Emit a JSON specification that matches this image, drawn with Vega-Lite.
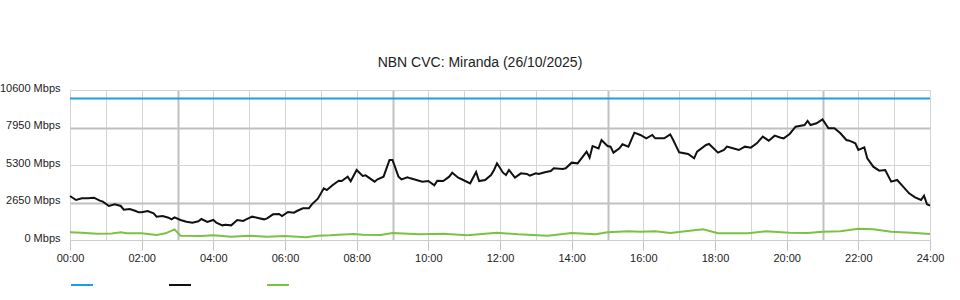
{
  "$schema": "https://vega.github.io/schema/vega-lite/v6.json",
  "autosize": "none",
  "width": 860,
  "height": 150,
  "padding": {"left": 70, "top": 90, "right": 30, "bottom": 60},
  "background": "white",
  "config": {"font": "Liberation Sans", "view": {"stroke": null}},
  "title": {
    "text": "NBN CVC: Miranda (26/10/2025)",
    "fontSize": 14,
    "fontWeight": "normal",
    "color": "#222222",
    "anchor": "middle",
    "frame": "group",
    "dx": -20,
    "offset": 12
  },
  "data": {
    "values": [
      {"s":"Capacity","m":0,"v":10000},{"s":"Capacity","m":1440,"v":10000},
      {"s":"Download","m":0,"v":3109},{"s":"Download","m":10,"v":2827},{"s":"Download","m":20,"v":2944},{"s":"Download","m":30,"v":2944},{"s":"Download","m":40,"v":2991},{"s":"Download","m":50,"v":2779},{"s":"Download","m":55,"v":2709},{"s":"Download","m":65,"v":2403},{"s":"Download","m":75,"v":2521},{"s":"Download","m":85,"v":2403},{"s":"Download","m":90,"v":2144},{"s":"Download","m":100,"v":2191},{"s":"Download","m":110,"v":2049},{"s":"Download","m":115,"v":1955},{"s":"Download","m":120,"v":1955},{"s":"Download","m":130,"v":2049},{"s":"Download","m":140,"v":1885},{"s":"Download","m":145,"v":1649},{"s":"Download","m":155,"v":1696},{"s":"Download","m":165,"v":1578},{"s":"Download","m":170,"v":1460},{"s":"Download","m":175,"v":1602},{"s":"Download","m":185,"v":1413},{"s":"Download","m":195,"v":1295},{"s":"Download","m":205,"v":1225},{"s":"Download","m":215,"v":1319},{"s":"Download","m":220,"v":1484},{"s":"Download","m":230,"v":1272},{"s":"Download","m":240,"v":1413},{"s":"Download","m":245,"v":1225},{"s":"Download","m":255,"v":1036},{"s":"Download","m":260,"v":1084},{"s":"Download","m":270,"v":1036},{"s":"Download","m":280,"v":1413},{"s":"Download","m":290,"v":1343},{"s":"Download","m":295,"v":1460},{"s":"Download","m":305,"v":1649},{"s":"Download","m":315,"v":1555},{"s":"Download","m":325,"v":1460},{"s":"Download","m":330,"v":1531},{"s":"Download","m":340,"v":1814},{"s":"Download","m":350,"v":1837},{"s":"Download","m":355,"v":1696},{"s":"Download","m":365,"v":1979},{"s":"Download","m":375,"v":1932},{"s":"Download","m":380,"v":2049},{"s":"Download","m":390,"v":2238},{"s":"Download","m":400,"v":2238},{"s":"Download","m":405,"v":2521},{"s":"Download","m":415,"v":2921},{"s":"Download","m":425,"v":3651},{"s":"Download","m":430,"v":3533},{"s":"Download","m":440,"v":3887},{"s":"Download","m":450,"v":4193},{"s":"Download","m":455,"v":4169},{"s":"Download","m":465,"v":4476},{"s":"Download","m":470,"v":4150},{"s":"Download","m":480,"v":4947},{"s":"Download","m":490,"v":4523},{"s":"Download","m":495,"v":4570},{"s":"Download","m":510,"v":4122},{"s":"Download","m":515,"v":4287},{"s":"Download","m":525,"v":4476},{"s":"Download","m":535,"v":5653},{"s":"Download","m":540,"v":5653},{"s":"Download","m":550,"v":4476},{"s":"Download","m":555,"v":4287},{"s":"Download","m":565,"v":4429},{"s":"Download","m":570,"v":4358},{"s":"Download","m":580,"v":4240},{"s":"Download","m":590,"v":4122},{"s":"Download","m":600,"v":4169},{"s":"Download","m":610,"v":3863},{"s":"Download","m":615,"v":4193},{"s":"Download","m":625,"v":4169},{"s":"Download","m":635,"v":4476},{"s":"Download","m":640,"v":4758},{"s":"Download","m":650,"v":4405},{"s":"Download","m":655,"v":4311},{"s":"Download","m":670,"v":4005},{"s":"Download","m":680,"v":4805},{"s":"Download","m":685,"v":4169},{"s":"Download","m":695,"v":4240},{"s":"Download","m":705,"v":4593},{"s":"Download","m":710,"v":4947},{"s":"Download","m":715,"v":5418},{"s":"Download","m":725,"v":4758},{"s":"Download","m":730,"v":4593},{"s":"Download","m":735,"v":4947},{"s":"Download","m":745,"v":4405},{"s":"Download","m":755,"v":4711},{"s":"Download","m":765,"v":4664},{"s":"Download","m":770,"v":4546},{"s":"Download","m":780,"v":4711},{"s":"Download","m":785,"v":4664},{"s":"Download","m":795,"v":4782},{"s":"Download","m":805,"v":4876},{"s":"Download","m":810,"v":5064},{"s":"Download","m":825,"v":5017},{"s":"Download","m":830,"v":5064},{"s":"Download","m":840,"v":5465},{"s":"Download","m":850,"v":5418},{"s":"Download","m":865,"v":6242},{"s":"Download","m":870,"v":5818},{"s":"Download","m":875,"v":6643},{"s":"Download","m":885,"v":6478},{"s":"Download","m":890,"v":7067},{"s":"Download","m":900,"v":6643},{"s":"Download","m":905,"v":6596},{"s":"Download","m":910,"v":6172},{"s":"Download","m":920,"v":6478},{"s":"Download","m":925,"v":6761},{"s":"Download","m":935,"v":6596},{"s":"Download","m":945,"v":7585},{"s":"Download","m":955,"v":7420},{"s":"Download","m":965,"v":7184},{"s":"Download","m":975,"v":7420},{"s":"Download","m":980,"v":7184},{"s":"Download","m":995,"v":7184},{"s":"Download","m":1005,"v":7467},{"s":"Download","m":1010,"v":7067},{"s":"Download","m":1020,"v":6195},{"s":"Download","m":1035,"v":6077},{"s":"Download","m":1045,"v":5771},{"s":"Download","m":1050,"v":6242},{"s":"Download","m":1065,"v":6713},{"s":"Download","m":1070,"v":6784},{"s":"Download","m":1085,"v":6172},{"s":"Download","m":1095,"v":6360},{"s":"Download","m":1100,"v":6596},{"s":"Download","m":1110,"v":6478},{"s":"Download","m":1120,"v":6360},{"s":"Download","m":1130,"v":6596},{"s":"Download","m":1140,"v":6525},{"s":"Download","m":1150,"v":6831},{"s":"Download","m":1160,"v":7302},{"s":"Download","m":1170,"v":7020},{"s":"Download","m":1180,"v":7373},{"s":"Download","m":1190,"v":7231},{"s":"Download","m":1195,"v":7184},{"s":"Download","m":1205,"v":7491},{"s":"Download","m":1215,"v":8009},{"s":"Download","m":1230,"v":8127},{"s":"Download","m":1235,"v":8409},{"s":"Download","m":1240,"v":8127},{"s":"Download","m":1250,"v":8245},{"s":"Download","m":1260,"v":8527},{"s":"Download","m":1270,"v":7891},{"s":"Download","m":1280,"v":7891},{"s":"Download","m":1290,"v":7538},{"s":"Download","m":1300,"v":7067},{"s":"Download","m":1305,"v":7020},{"s":"Download","m":1315,"v":6831},{"s":"Download","m":1320,"v":6360},{"s":"Download","m":1330,"v":6549},{"s":"Download","m":1335,"v":5771},{"s":"Download","m":1345,"v":5182},{"s":"Download","m":1355,"v":4899},{"s":"Download","m":1365,"v":4947},{"s":"Download","m":1375,"v":4122},{"s":"Download","m":1385,"v":4240},{"s":"Download","m":1395,"v":3769},{"s":"Download","m":1405,"v":3298},{"s":"Download","m":1415,"v":3015},{"s":"Download","m":1425,"v":2827},{"s":"Download","m":1430,"v":3133},{"s":"Download","m":1435,"v":2521},{"s":"Download","m":1440,"v":2426},
      {"s":"Upload","m":0,"v":542},{"s":"Upload","m":20,"v":518},{"s":"Upload","m":45,"v":447},{"s":"Upload","m":70,"v":460},{"s":"Upload","m":85,"v":542},{"s":"Upload","m":95,"v":471},{"s":"Upload","m":120,"v":471},{"s":"Upload","m":145,"v":353},{"s":"Upload","m":160,"v":471},{"s":"Upload","m":175,"v":754},{"s":"Upload","m":185,"v":306},{"s":"Upload","m":220,"v":283},{"s":"Upload","m":240,"v":330},{"s":"Upload","m":270,"v":236},{"s":"Upload","m":300,"v":306},{"s":"Upload","m":330,"v":236},{"s":"Upload","m":360,"v":283},{"s":"Upload","m":395,"v":188},{"s":"Upload","m":415,"v":306},{"s":"Upload","m":435,"v":330},{"s":"Upload","m":450,"v":377},{"s":"Upload","m":475,"v":424},{"s":"Upload","m":490,"v":377},{"s":"Upload","m":520,"v":353},{"s":"Upload","m":540,"v":494},{"s":"Upload","m":585,"v":401},{"s":"Upload","m":625,"v":448},{"s":"Upload","m":665,"v":330},{"s":"Upload","m":715,"v":518},{"s":"Upload","m":750,"v":401},{"s":"Upload","m":800,"v":306},{"s":"Upload","m":840,"v":494},{"s":"Upload","m":880,"v":401},{"s":"Upload","m":900,"v":542},{"s":"Upload","m":935,"v":613},{"s":"Upload","m":955,"v":589},{"s":"Upload","m":980,"v":612},{"s":"Upload","m":1005,"v":494},{"s":"Upload","m":1060,"v":754},{"s":"Upload","m":1085,"v":471},{"s":"Upload","m":1135,"v":471},{"s":"Upload","m":1165,"v":612},{"s":"Upload","m":1205,"v":518},{"s":"Upload","m":1235,"v":494},{"s":"Upload","m":1260,"v":589},{"s":"Upload","m":1290,"v":612},{"s":"Upload","m":1320,"v":801},{"s":"Upload","m":1345,"v":754},{"s":"Upload","m":1375,"v":589},{"s":"Upload","m":1410,"v":518},{"s":"Upload","m":1440,"v":424}
    ]
  },
  "mark": {"type": "line", "strokeWidth": 2},
  "encoding": {
    "x": {
      "field": "m", "type": "quantitative", "title": null,
      "scale": {"domain": [0, 1440], "nice": false, "zero": false},
      "axis": {
        "values": [0,60,120,180,240,300,360,420,480,540,600,660,720,780,840,900,960,1020,1080,1140,1200,1260,1320,1380,1440],
        "labelExpr": "datum.value % 120 == 0 ? ((datum.value < 600 ? '0' : '') + (datum.value / 60) + ':00') : ''",
        "labelOverlap": false,
        "labelFlush": false,
        "labelFontSize": 11,
        "labelColor": "#222222",
        "labelPadding": 2,
        "tickSize": 10,
        "tickColor": {"condition": {"test": "datum.value % 120 != 0", "value": "transparent"}, "value": "#c4c4c4"},
        "domainColor": "#cccccc",
        "grid": true,
        "gridColor": {"condition": {"test": "datum.value % 360 == 180", "value": "#c0c0c0"}, "value": "#d4d4d4"},
        "gridWidth": {"condition": {"test": "datum.value % 360 == 180", "value": 2}, "value": 1}
      }
    },
    "y": {
      "field": "v", "type": "quantitative", "title": null,
      "scale": {"domain": [0, 10600], "nice": false},
      "axis": {
        "values": [0, 2650, 5300, 7950, 10600],
        "labelExpr": "datum.value + ' Mbps'",
        "labelFontSize": 11,
        "labelColor": "#222222",
        "labelPadding": 10,
        "labelOffset": -2,
        "ticks": false,
        "domain": false,
        "grid": true,
        "gridColor": {"condition": {"test": "datum.value == 2650 || datum.value == 7950", "value": "#c0c0c0"}, "value": "#d4d4d4"},
        "gridWidth": {"condition": {"test": "datum.value == 2650 || datum.value == 7950", "value": 2}, "value": 1}
      }
    },
    "color": {
      "field": "s", "type": "nominal",
      "scale": {"domain": ["Capacity", "Download", "Upload"], "range": ["#1a9fe2", "#111111", "#7cc242"]},
      "legend": {
        "orient": "bottom",
        "direction": "horizontal",
        "title": null,
        "symbolType": "stroke",
        "symbolSize": 484,
        "symbolStrokeWidth": 2,
        "labelFontSize": 0,
        "labelOffset": 0,
        "columnPadding": 68,
        "offset": 10,
        "padding": 0
      }
    }
  }
}
